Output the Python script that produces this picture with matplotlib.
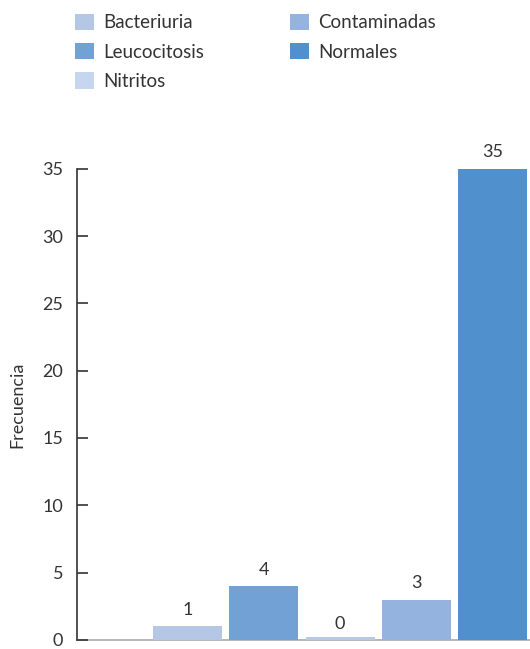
import matplotlib.pyplot as plt
from matplotlib.patches import Patch

# Frecuencia por resultado del examen de orina
categorias = ['Bacteriuria', 'Leucocitosis', 'Nitritos', 'Contaminadas', 'Normales']
frecuencia = [1, 4, 0, 3, 35]
colores = ['#b4c8e5', '#72a1d5', '#c6d6ee', '#94b4df', '#5090cd']

plt.rcParams['font.family'] = ['Lato', 'DejaVu Sans']

fig = plt.figure(figsize=(5.30, 6.49), dpi=100)
ax = fig.add_axes([0.1453, 0.014, 0.8547, 0.726])

x = list(range(1, len(categorias) + 1))
barras = ax.bar(x, frecuencia, width=0.905, color=colores, zorder=2)
# la barra en cero se deja ver como una franja fina
ax.bar(x[2], 0.22, width=0.905, color='#b7c9e6', zorder=3)

for xi, v in zip(x, frecuencia):
    ax.annotate(str(v), (xi, v), xytext=(0, 6), textcoords='offset points',
                ha='center', va='bottom', fontsize=13, color='#333333',
                annotation_clip=False)

ax.set_xlim(-0.45, 5.49)
ax.set_ylim(0, 35)
ax.set_yticks(range(0, 36, 5))
ax.set_xticks([])
ax.tick_params(axis='y', direction='in', length=8, width=1.2, pad=10,
               labelsize=13, colors='#333333')
ax.set_ylabel('Frecuencia', fontsize=13, color='#333333', labelpad=12)

for lado in ['top', 'right']:
    ax.spines[lado].set_visible(False)
ax.spines['left'].set_color('#333333')
ax.spines['left'].set_linewidth(1.2)
ax.spines['bottom'].set_color('#aaaaaa')
ax.spines['bottom'].set_linewidth(1.2)
ax.spines['bottom'].set_zorder(1)

handles = [Patch(facecolor=c, label=n) for c, n in zip(colores, categorias)]
fig.legend(handles=handles, ncol=2, loc='upper left', bbox_to_anchor=(0.11, 1.005),
           frameon=False, fontsize=13.5, handlelength=1.0, handleheight=1.0,
           handletextpad=0.5, labelspacing=0.6, columnspacing=4.6,
           labelcolor='#333333')

fig.savefig('out.png', dpi=100)
